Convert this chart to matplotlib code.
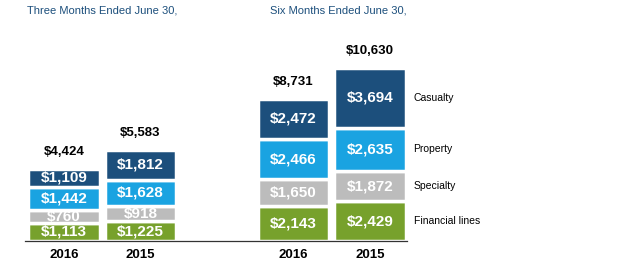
import matplotlib
matplotlib.use("Agg")
import matplotlib.pyplot as plt
import numpy as np

plt.rcParams['font.family'] = ['Liberation Sans', 'DejaVu Sans']

# ---- data ----
years = ["2016", "2015", "2016", "2015"]
segments = ["Financial lines", "Specialty", "Property", "Casualty"]
financial = [1113, 1225, 2143, 2429]
specialty = [760, 918, 1650, 1872]
prop = [1442, 1628, 2466, 2635]
casualty = [1109, 1812, 2472, 3694]
totals = [4424, 5583, 8731, 10630]
headers = ["Three Months Ended June 30,", "Six Months Ended June 30,"]

series = [financial, specialty, prop, casualty]
colors = ["#77a12c", "#bcbcbc", "#1aa3e1", "#1c4f7c"]

positions = np.array([0, 1, 3, 4])

fig = plt.figure(figsize=(6.2, 2.65), dpi=100)
ax = fig.add_axes([0, 0, 1, 1])
ax.set_xlim(-0.837, 7.268)
ax.set_ylim(-1472, 14785)
ax.axis('off')

bottom = np.zeros(len(positions))
containers = []
for vals, col in zip(series, colors):
    c = ax.bar(positions, vals, width=0.935, bottom=bottom, color=col,
               edgecolor='white', linewidth=2.5, zorder=2)
    ax.bar_label(c, labels=[f"${v:,}" for v in vals], label_type='center',
                 color='white', fontsize=11, fontweight='bold')
    containers.append(c)
    bottom = bottom + np.array(vals)

ax.bar_label(containers[-1], labels=[f"${t:,}" for t in totals], padding=8,
             color='black', fontsize=9.5, fontweight='bold')

# baseline
ax.plot([-0.51, 4.48], [0, 0], color='#333333', lw=0.9, zorder=3)

# year labels
for p, y in zip(positions, years):
    ax.text(p, -860, y, ha='center', va='center', fontsize=9.5, fontweight='bold')

# headers
ax.text(-0.48, 14170, headers[0], ha='left', va='center', fontsize=8, color='#1c4f7c')
ax.text(2.69, 14170, headers[1], ha='left', va='center', fontsize=8, color='#1c4f7c')

# segment labels to the right of last bar
cum = 0
for name, vals in zip(segments, series):
    v = vals[-1]
    ax.text(positions[-1] + 0.57, cum + v / 2, name, ha='left', va='center',
            fontsize=7.5, color='black')
    cum += v

fig.savefig("out.png", dpi=100)
